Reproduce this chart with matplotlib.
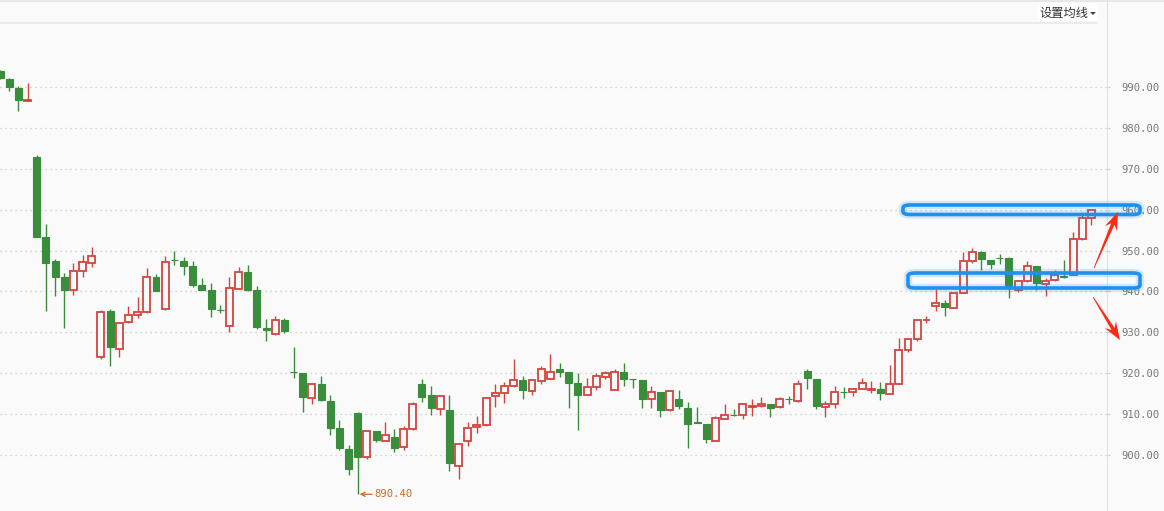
import matplotlib
matplotlib.use("Agg")
import matplotlib.pyplot as plt
from matplotlib.patches import Rectangle, FancyBboxPatch, Polygon
from matplotlib.lines import Line2D
import numpy as np

# daily candles, oldest first
opens = [993.9, 992.0, 989.8, 986.6, 972.9, 953.3, 947.4, 943.5, 940.3, 944.9,
         946.9, 923.9, 935.2, 925.9, 932.5, 934.2, 934.9, 943.5, 935.6, 947.7,
         947.4, 946.2, 941.6, 940.4, 935.5, 931.6, 940.7, 944.8, 940.4, 931.1,
         929.7, 933.0, 920.4, 920.1, 914.0, 917.4, 913.2, 906.6, 901.5, 910.3,
         899.6, 905.9, 903.4, 904.3, 901.9, 906.3, 917.4, 914.6, 911.2, 911.0,
         897.4, 903.4, 906.8, 907.3, 914.4, 915.1, 916.8, 918.3, 915.6, 918.0,
         918.5, 921.0, 920.3, 917.6, 914.6, 916.6, 919.2, 916.0, 920.3, 918.6,
         918.3, 913.6, 915.4, 911.0, 913.6, 911.4, 908.0, 907.5, 903.4, 908.9,
         909.8, 909.7, 911.7, 911.9, 912.6, 911.7, 913.7, 913.2, 920.5, 918.5,
         911.7, 912.4, 915.5, 915.4, 916.1, 915.9, 916.1, 914.9, 917.3, 925.6,
         928.3, 932.9, 936.4, 937.1, 935.9, 939.6, 947.4, 949.6, 947.6, 948.2,
         948.1, 940.3, 942.5, 946.2, 941.8, 942.8, 943.8, 944.0, 952.8, 957.9]
highs = [994.2, 992.1, 990.2, 991.1, 973.3, 956.5, 947.9, 944.5, 947.0, 948.9,
         950.9, 935.5, 935.7, 932.3, 936.4, 938.6, 945.7, 944.3, 948.7, 949.9,
         948.4, 947.4, 943.3, 942.1, 936.8, 943.5, 946.0, 946.5, 941.3, 933.3,
         934.0, 933.5, 926.4, 920.1, 917.3, 919.3, 914.7, 908.6, 902.4, 910.5,
         905.9, 905.9, 908.1, 906.3, 907.1, 913.0, 918.6, 916.9, 914.4, 914.7,
         902.8, 908.1, 909.5, 914.0, 917.4, 917.9, 923.5, 919.3, 918.5, 921.8,
         924.8, 922.5, 920.3, 920.1, 918.8, 920.0, 920.6, 921.0, 922.5, 918.6,
         918.3, 916.8, 915.4, 915.6, 915.9, 912.9, 911.7, 907.5, 909.5, 912.4,
         911.2, 912.4, 913.6, 914.1, 912.6, 914.1, 914.4, 918.3, 921.0, 918.5,
         913.2, 916.8, 916.6, 916.1, 918.8, 918.1, 917.8, 922.0, 928.5, 928.5,
         933.0, 934.0, 940.5, 937.9, 939.6, 949.6, 950.6, 949.8, 947.6, 949.1,
         948.4, 942.8, 947.4, 946.2, 943.2, 945.2, 947.6, 954.5, 958.9, 959.9]
lows = [992.0, 989.1, 984.2, 986.6, 953.2, 935.1, 939.0, 931.1, 939.2, 943.6,
        946.1, 923.5, 921.8, 924.0, 932.2, 933.4, 934.7, 940.2, 935.5, 946.4,
        944.1, 941.2, 940.4, 933.8, 934.7, 930.0, 940.5, 940.0, 930.7, 928.0,
        929.4, 929.9, 918.9, 910.5, 912.6, 913.3, 905.0, 901.3, 895.2, 890.4,
        899.1, 903.1, 903.4, 900.8, 901.2, 906.1, 912.9, 909.9, 909.9, 896.2,
        894.1, 902.1, 905.3, 907.0, 911.8, 912.8, 916.6, 913.8, 914.8, 917.3,
        918.5, 919.1, 911.6, 906.0, 914.6, 915.8, 918.7, 916.0, 917.0, 916.3,
        911.6, 911.6, 909.4, 910.8, 911.2, 901.8, 907.9, 903.0, 903.4, 908.7,
        909.5, 908.7, 909.5, 911.7, 909.2, 911.6, 912.4, 912.9, 916.1, 911.2,
        909.2, 911.4, 913.9, 914.5, 916.1, 915.1, 913.4, 914.9, 917.3, 925.1,
        927.8, 932.3, 935.2, 934.0, 935.9, 939.6, 946.9, 945.2, 945.4, 946.7,
        938.3, 939.8, 942.3, 940.3, 938.8, 942.5, 943.3, 944.0, 952.5, 956.2]
closes = [992.3, 990.1, 986.9, 986.8, 953.4, 947.0, 943.6, 940.4, 945.0, 947.2,
          948.7, 935.0, 926.5, 932.3, 934.2, 934.9, 943.5, 940.2, 947.2, 947.6,
          946.3, 941.7, 940.4, 935.6, 935.4, 940.8, 944.7, 940.4, 931.4, 930.5,
          933.0, 930.4, 920.2, 914.3, 917.3, 913.5, 906.7, 901.6, 896.7, 899.6,
          905.9, 903.6, 904.8, 901.8, 906.3, 912.4, 914.3, 911.4, 914.4, 898.1,
          902.8, 906.6, 907.3, 913.9, 915.2, 916.8, 918.3, 915.8, 918.3, 921.0,
          920.2, 920.4, 917.7, 914.8, 916.6, 919.3, 920.1, 920.3, 918.7, 918.5,
          913.8, 915.4, 911.1, 915.6, 911.9, 907.7, 907.9, 903.8, 909.0, 909.7,
          909.7, 912.4, 911.9, 912.4, 911.6, 913.6, 913.6, 917.3, 918.8, 911.9,
          912.4, 915.4, 915.4, 916.1, 917.6, 916.1, 915.1, 917.3, 925.6, 928.3,
          933.0, 933.0, 937.1, 936.1, 939.6, 947.4, 949.6, 947.9, 946.7, 948.1,
          941.3, 942.5, 946.2, 942.0, 942.5, 944.0, 943.6, 952.8, 957.9, 959.9]

grid_levels = [900, 910, 920, 930, 940, 950, 960, 970, 980, 990]
low_mark = 890.40
header_text = "设置均线"

bg = "#fafafa"
red = "#d4443f"
green = "#3a8d3a"

W, H = 1164, 511
fig = plt.figure(figsize=(W / 100, H / 100), dpi=100, facecolor=bg)
ax = fig.add_axes([0, 0, 1107 / W, 1])
ax.set_facecolor(bg)

n = len(opens)
x = np.arange(n)
ax.set_xlim(-0.01, 120.7)
ax.set_ylim(886.31, 1011.28)

# grid
for g in grid_levels:
    ax.axhline(g, color="#c8c8c8", lw=0.9, ls=(0, (1, 3)), zorder=0)

# candles
bw = 0.76
for i in range(n):
    o, h, l, c = opens[i], highs[i], lows[i], closes[i]
    up = c >= o
    col = red if up else green
    ax.vlines(x[i], l, h, color=col, lw=1.0, zorder=2)
    lo, hi = min(o, c), max(o, c)
    body = max(hi - lo, 0.05)
    if up:
        ax.add_patch(Rectangle((x[i] - bw / 2, lo), bw, body, facecolor=bg,
                               edgecolor=col, lw=1.3, zorder=3))
    else:
        ax.add_patch(Rectangle((x[i] - bw / 2, lo), bw, body, facecolor=col,
                               edgecolor=col, lw=0.8, zorder=3))

# right price axis
for s in ax.spines.values():
    s.set_visible(False)
ax.spines["right"].set_visible(True)
ax.spines["right"].set_color("#e2e2e2")
ax.tick_params(axis="x", which="both", bottom=False, labelbottom=False)
ax.yaxis.tick_right()
ax.set_yticks(grid_levels)
ax.set_yticklabels([f"{v:.2f}" for v in grid_levels])
ax.tick_params(axis="y", length=2.2, color="#cccccc", pad=8.5,
               labelsize=7.6, labelcolor="#777777")
for t in ax.get_yticklabels():
    t.set_fontfamily("DejaVu Sans Mono")

# lowest price marker
imin = int(np.argmin(lows))
ax.annotate(f"{low_mark:.2f}", xy=(x[imin] + 0.2, low_mark), xytext=(11, 0),
            textcoords="offset points", va="center", ha="left",
            fontsize=7.6, color="#d2691e", family="DejaVu Sans Mono",
            arrowprops=dict(arrowstyle="->", color="#d2691e", lw=0.9,
                            shrinkA=0, shrinkB=0), zorder=5)

# header strip
fig.add_artist(Line2D([0, 1], [1 - 1.5 / H, 1 - 1.5 / H], color="#e4e4e4", lw=1.2))
fig.add_artist(Line2D([0, 1097 / W], [1 - 23 / H, 1 - 23 / H], color="#e8e8e8", lw=1.2))
fig.add_artist(Rectangle((1037 / W, 1 - 21 / H), 61 / W, 18 / H, facecolor="white",
                         edgecolor="none", transform=fig.transFigure))
fig.text(1039 / W, 1 - 13 / H, header_text, fontsize=8.8, color="#333333",
         family=["Noto Sans CJK SC", "DejaVu Sans"], va="center", ha="left")
fig.add_artist(Polygon([[1090 / W, 1 - 12 / H], [1096 / W, 1 - 12 / H],
                        [1093 / W, 1 - 15 / H]], closed=True,
                       facecolor="#444444", edgecolor="none",
                       transform=fig.transFigure))


# blue highlight boxes (pixel coords, y from top)
def box(x0, y0, x1, y1):
    for lw, a in [(6, 0.18), (2.6, 1.0)]:
        p = FancyBboxPatch((x0 / W, 1 - y1 / H), (x1 - x0) / W, (y1 - y0) / H,
                           boxstyle="round,pad=0,rounding_size=0.006",
                           facecolor="none", edgecolor="#1e90ee", lw=lw,
                           alpha=a, transform=fig.transFigure, zorder=10)
        fig.add_artist(p)


box(903, 205, 1140, 214.5)
box(908, 273, 1140, 288)


# red tapered arrows
def arrow(x0, y0, x1, y1):
    p0 = np.array([x0, H - y0], float)
    p1 = np.array([x1, H - y1], float)
    d = p1 - p0
    L = np.hypot(*d)
    d = d / L
    nrm = np.array([-d[1], d[0]])
    hl, hw = 18, 6.5
    base = p1 - d * hl
    neck = p1 - d * (hl - 5)
    pts = [p0 + nrm * 0.4, neck + nrm * 1.8, base + nrm * hw, p1,
           base - nrm * hw, neck - nrm * 1.8, p0 - nrm * 0.4]
    pts = [(q[0] / W, q[1] / H) for q in pts]
    fig.add_artist(Polygon(pts, closed=True, facecolor="#ff2a14", edgecolor="none",
                           transform=fig.transFigure, zorder=11))


arrow(1094, 268, 1118, 212)
arrow(1093, 297, 1120, 340)

fig.savefig("out.png", dpi=100, facecolor=bg)
